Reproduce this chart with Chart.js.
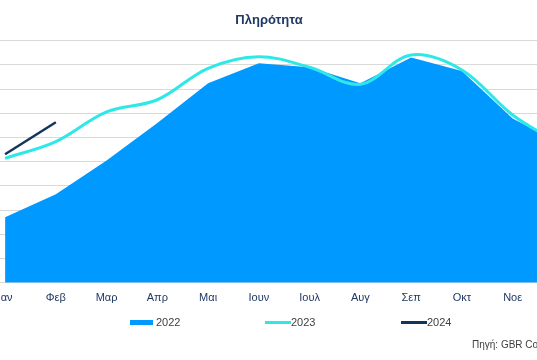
<!DOCTYPE html>
<html>
<head>
<meta charset="utf-8">
<script src="https://cdn.jsdelivr.net/npm/chart.js@4.4.1/dist/chart.umd.min.js"></script>
<style>
  html, body { margin: 0; padding: 0; background: #fff; overflow: hidden; width: 537px; height: 360px; }
  #wrap { position: relative; width: 537px; height: 360px; overflow: hidden; }
  #c { position: absolute; left: -30px; top: 0; }
  .leg { position: absolute; font-family: "Liberation Sans", Arial, sans-serif; font-size: 11px; color: #404040; line-height: 13px; }
  .sw { position: absolute; }
  #src { position: absolute; left: 472px; top: 339px; font-family: "Liberation Sans", Arial, sans-serif; font-size: 10px; color: #404040; white-space: nowrap; }
</style>
</head>
<body>
<div id="wrap">
  <canvas id="c" width="598" height="360"></canvas>
  <div class="sw" style="left:130px; top:320px; width:23px; height:5px; background:#0099FF;"></div>
  <div class="leg" style="left:156px; top:316px;">2022</div>
  <div class="sw" style="left:265px; top:321px; width:26px; height:3px; background:#2EE8E8;"></div>
  <div class="leg" style="left:291px; top:316px;">2023</div>
  <div class="sw" style="left:401px; top:321px; width:26px; height:3px; background:#12355B;"></div>
  <div class="leg" style="left:427px; top:316px;">2024</div>
  <div id="src">Πηγή: GBR Consulting</div>
</div>
<script>
const months = ["Ιαν", "Φεβ", "Μαρ", "Απρ", "Μαι", "Ιουν", "Ιουλ", "Αυγ", "Σεπ", "Οκτ", "Νοε", "Δεκ"];
const values2022 = [27.0, 36.5, 50.5, 66.0, 82.4, 90.7, 89.0, 82.4, 93.1, 87.5, 67.9, 57.0];
const values2023 = [51.4, 58.3, 70.6, 75.6, 88.6, 93.4, 89.0, 82.0, 94.1, 87.9, 69.3, 56.5];
const values2024 = [53.1, 66.3];
const seriesNames = ["2022", "2023", "2024"];
const titleText = "Πληρότητα";

const toXY = arr => arr.map((v, i) => ({ x: i, y: v }));

Chart.defaults.font.family = '"Liberation Sans", Arial, sans-serif';

new Chart(document.getElementById('c'), {
  type: 'line',
  data: {
    datasets: [
      {
        label: seriesNames[0],
        data: toXY(values2022),
        backgroundColor: '#0099FF',
        borderColor: '#0099FF',
        borderWidth: 0,
        fill: 'origin',
        pointRadius: 0,
        tension: 0,
        order: 3
      },
      {
        label: seriesNames[1],
        data: toXY(values2023),
        borderColor: '#2EE8E8',
        borderWidth: 3,
        fill: false,
        pointRadius: 0,
        tension: 0.35,
        order: 2
      },
      {
        label: seriesNames[2],
        data: toXY(values2024),
        borderColor: '#12355B',
        borderWidth: 2.5,
        fill: false,
        pointRadius: 0,
        tension: 0,
        order: 1
      }
    ]
  },
  options: {
    responsive: false,
    animation: false,
    devicePixelRatio: 1,
    layout: { padding: { left: 30, right: 30, top: 0, bottom: 47.7 } },
    plugins: {
      legend: { display: false },
      tooltip: { enabled: false },
      title: {
        display: true,
        text: titleText,
        color: '#1F3864',
        font: { size: 13, weight: 'bold' },
        padding: { top: 13, bottom: 12.1 }
      }
    },
    scales: {
      x: {
        type: 'linear',
        min: -0.1,
        max: 10.5,
        grid: { display: false, drawTicks: false },
        border: { display: false },
        afterBuildTicks: scale => {
          scale.ticks = months.map((m, i) => ({ value: i })).filter(t => t.value <= 10);
        },
        ticks: {
          color: '#1F3864',
          font: { size: 11 },
          padding: 8.2,
          maxRotation: 0,
          autoSkip: false,
          callback: v => months[v]
        }
      },
      y: {
        min: 0,
        max: 100,
        grid: { color: '#D9D9D9', lineWidth: 1, drawTicks: false },
        border: { display: false },
        ticks: { display: false, stepSize: 10 }
      }
    }
  }
});
</script>
</body>
</html>
